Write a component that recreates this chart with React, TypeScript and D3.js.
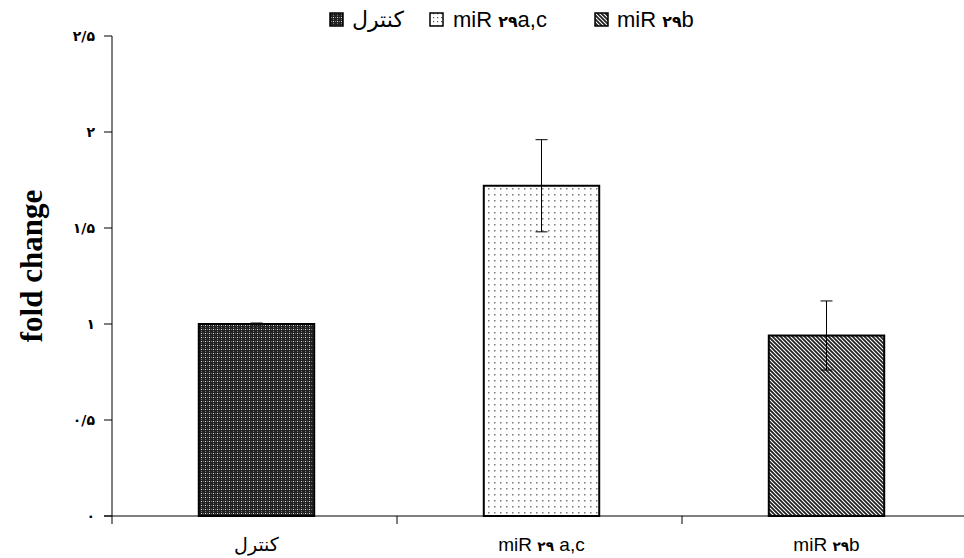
import React from "react";
import * as d3 from "d3";

const categories = ["control", "miR29ac", "miR29b"];
const values = [1.0, 1.72, 0.94];
const errors = [0.005, 0.24, 0.18];
const yTicks = [0, 0.5, 1, 1.5, 2, 2.5];
const yTickLabels = ["۰", "۰/۵", "۱", "۱/۵", "۲", "۲/۵"];
const patterns = ["pCheck", "pDots", "pDiag"];

const W = 964;
const H = 558;
const sansFont = "'Liberation Sans', 'DejaVu Sans', sans-serif";

function Label({ idx, x, y, size, anchor }: { idx: number; x: number; y: number; size: number; anchor: string }) {
  if (idx === 0) {
    return (
      <text x={x} y={y} fontSize={size} fontFamily="'DejaVu Sans', sans-serif" textAnchor={anchor}>
        کنترل
      </text>
    );
  }
  const suffix = idx === 1 ? (anchor === "middle" ? " a,c" : "a,c") : "b";
  return (
    <text x={x} y={y} fontSize={size} fontFamily={sansFont} textAnchor={anchor}>
      <tspan>miR </tspan>
      <tspan fontSize={size * 0.72} fontWeight="bold" fontFamily="'DejaVu Sans', sans-serif">۲۹</tspan>
      <tspan>{suffix}</tspan>
    </text>
  );
}

export default function App() {
  const x = d3.scaleBand<string>().domain(categories).range([112, 967]);
  const y = d3.scaleLinear().domain([0, 2.5]).range([516, 36]);
  const bw = x.bandwidth() * 0.405;

  const legendItems = [
    { idx: 0, bx: 330, tx: 352 },
    { idx: 1, bx: 430, tx: 453 },
    { idx: 2, bx: 595, tx: 617 },
  ];

  return (
    <svg width={W} height={H} style={{ position: "absolute", left: 0, top: 0, background: "#fff" }}>
      <defs>
        <pattern id="pCheck" width="4" height="4" patternUnits="userSpaceOnUse">
          <rect width="4" height="4" fill="#222" />
          <rect x="1" y="1" width="1" height="1" fill="#ddd" />
          <rect x="3" y="1" width="1" height="1" fill="#777" />
          <rect x="1" y="3" width="1" height="1" fill="#777" />
        </pattern>
        <pattern id="pDots" width="6" height="6" patternUnits="userSpaceOnUse">
          <rect width="6" height="6" fill="#fff" />
          <rect x="2" y="2" width="1.5" height="1.5" fill="#777" />
        </pattern>
        <pattern id="pDotsSmall" width="4" height="4" patternUnits="userSpaceOnUse">
          <rect width="4" height="4" fill="#fff" />
          <rect x="1" y="1" width="1.2" height="1.2" fill="#555" />
        </pattern>
        <pattern id="pDiag" width="4" height="4" patternUnits="userSpaceOnUse">
          <rect width="4" height="4" fill="#fff" />
          <path d="M-1,-1 L5,5 M-1,3 L1,5 M3,-1 L5,1" stroke="#222" strokeWidth="1.8" />
        </pattern>
      </defs>

      {/* y axis title */}
      <text
        transform="translate(42,266) rotate(-90)"
        textAnchor="middle"
        fontFamily="'Liberation Serif', 'Times New Roman', serif"
        fontWeight="bold"
        fontSize={31}
      >
        fold change
      </text>

      {/* y axis */}
      <line x1={112} x2={112} y1={y(2.5)} y2={524} stroke="#000" strokeWidth={1} />
      {yTicks.map((t, i) => (
        <g key={i}>
          <line x1={104} x2={112} y1={y(t)} y2={y(t)} stroke="#000" />
          <text
            x={95}
            y={y(t) + 5}
            textAnchor="end"
            fontFamily="'DejaVu Sans', sans-serif"
            fontWeight="bold"
            fontSize={14}
          >
            {yTickLabels[i]}
          </text>
        </g>
      ))}

      {/* x axis */}
      <line x1={104} x2={967} y1={y(0)} y2={y(0)} stroke="#000" />
      {categories.slice(1).map((c) => (
        <line key={c} x1={x(c)!} x2={x(c)!} y1={y(0)} y2={524} stroke="#000" />
      ))}

      {/* bars */}
      {categories.map((c, i) => {
        const cx = x(c)! + x.bandwidth() / 2 + 2;
        return (
          <g key={c}>
            <rect
              x={cx - bw / 2}
              y={y(values[i])}
              width={bw}
              height={y(0) - y(values[i])}
              fill={`url(#${patterns[i]})`}
              stroke="#000"
              strokeWidth={2}
            />
            <line x1={cx} x2={cx} y1={y(values[i] + errors[i])} y2={y(values[i] - errors[i])} stroke="#000" strokeWidth={1} />
            <line x1={cx - 6} x2={cx + 6} y1={y(values[i] + errors[i])} y2={y(values[i] + errors[i])} stroke="#000" strokeWidth={1} />
            <line x1={cx - 6} x2={cx + 6} y1={y(values[i] - errors[i])} y2={y(values[i] - errors[i])} stroke="#000" strokeWidth={1} />
            <Label idx={i} x={cx} y={551} size={19} anchor="middle" />
          </g>
        );
      })}

      {/* legend */}
      {legendItems.map((l) => (
        <g key={l.idx}>
          <rect
            x={l.bx}
            y={13}
            width={13}
            height={13}
            fill={`url(#${l.idx === 1 ? "pDotsSmall" : patterns[l.idx]})`}
            stroke="#000"
            strokeWidth={1.5}
          />
          <Label idx={l.idx} x={l.tx} y={27} size={22} anchor="start" />
        </g>
      ))}
    </svg>
  );
}
